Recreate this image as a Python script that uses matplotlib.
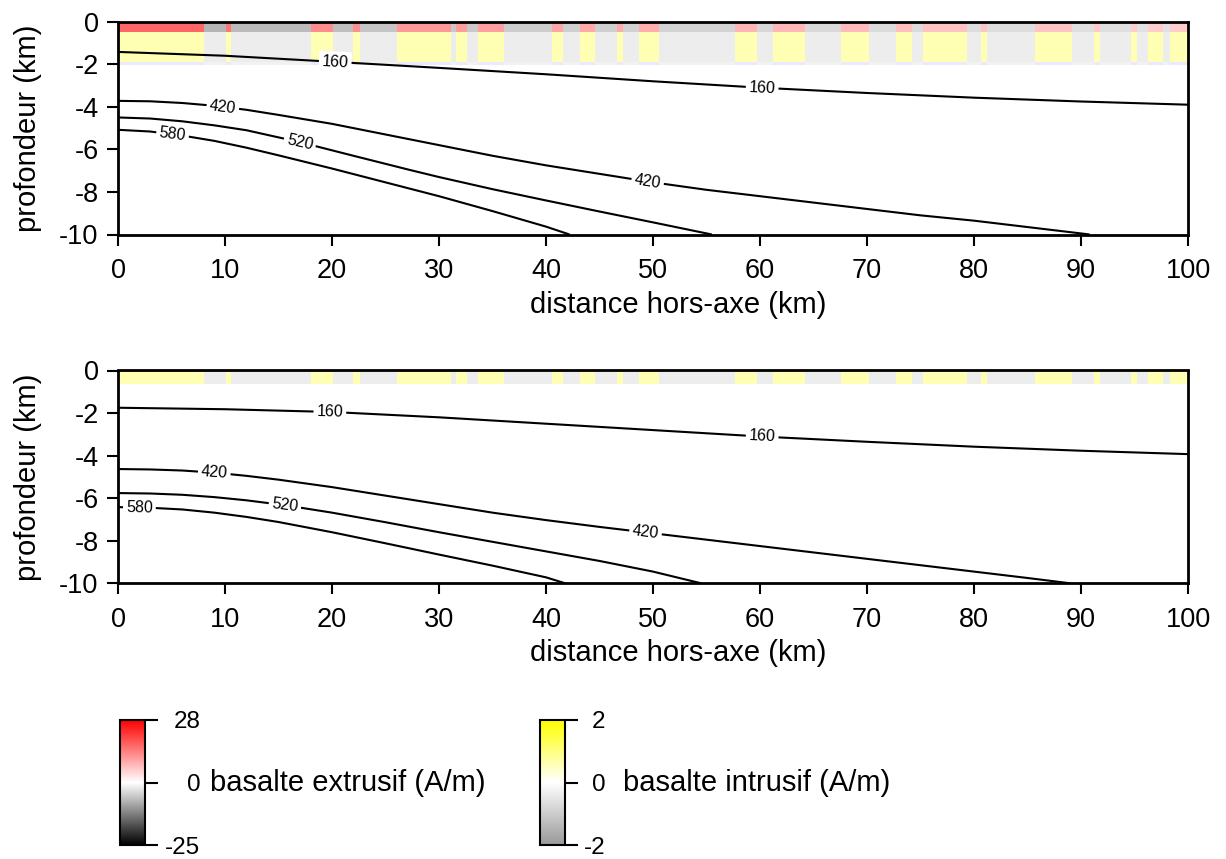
import matplotlib
matplotlib.use('Agg')
import numpy as np
import matplotlib.pyplot as plt
from matplotlib.colors import ListedColormap, TwoSlopeNorm
from matplotlib.cm import ScalarMappable

plt.rcParams['font.family'] = ['Liberation Sans', 'DejaVu Sans']
plt.rcParams['axes.unicode_minus'] = False

# ---------------- data ----------------
# block boundaries of the magnetic stripes (km off-axis)
block_edges = [0, 8.0, 10.1, 10.6, 18.0, 20.1, 22.0, 22.6, 26.1, 31.1, 31.6, 32.6,
               33.6, 36.1, 40.6, 41.6, 43.2, 44.6, 46.6, 47.2, 48.7, 50.6, 57.7,
               59.7, 61.2, 64.2, 67.6, 70.2, 72.7, 74.2, 75.2, 79.3, 80.7, 81.2,
               85.7, 89.2, 91.2, 91.8, 94.7, 95.2, 96.3, 97.7, 98.3, 100]
# extrusive basalt magnetisation (A/m), one value per block
extrusive_mag = [16.8, -7.4, 15.0, -6.7, 12.6, -6.3, 12.3, -5.8, 11.2, -5.4, 10.9,
                 -5.3, 10.6, -5.0, 9.9, -4.8, 9.6, -4.7, 9.4, -4.6, 9.1, -4.3,
                 8.3, -4.0, 8.0, -3.8, 7.5, -3.7, 7.2, -3.6, 6.7, -3.5, 6.5,
                 -3.4, 6.4, -3.3, 6.1, -3.2, 5.9, -3.1, 5.8, -3.0, 5.7]
# intrusive basalt magnetisation (A/m)
intrusive_mag = [0.6, -0.35] * 21 + [0.6]
# deeper layer (weak)
deep_mag = [0.09, -0.13] * 21 + [0.09]

# layer depths (km) for each panel
layers_top = {'ext': (0.0, -0.5), 'int': (-0.5, -1.9), 'deep': (-1.9, -2.05)}
layers_bot = {'ext': (0.0, -0.05), 'int': (-0.05, -0.65)}

# isotherms (distance km, depth km)
iso_top = {
    '160': ([0, 10, 20, 30, 40, 50, 60, 70, 80, 90, 100],
            [-1.42, -1.6, -1.88, -2.17, -2.47, -2.8, -3.1, -3.35, -3.57, -3.75, -3.9]),
    '420': ([0, 3, 6, 9, 12, 15, 20, 25, 30, 35, 40, 45, 50, 55, 60, 65, 70, 75, 80, 85, 90, 90.8],
            [-3.72, -3.74, -3.82, -3.95, -4.14, -4.38, -4.8, -5.3, -5.8, -6.3, -6.75, -7.15,
             -7.55, -7.9, -8.2, -8.5, -8.8, -9.1, -9.35, -9.65, -9.95, -10.0]),
    '520': ([0, 3, 6, 9, 12, 17, 22, 27.3, 30, 35, 40, 45, 50, 55.5],
            [-4.5, -4.55, -4.68, -4.87, -5.1, -5.66, -6.3, -6.97, -7.3, -7.87, -8.4, -8.92,
             -9.43, -10.0]),
    '580': ([0, 3, 6, 9, 12, 15, 20, 25, 30, 35, 40, 42.2],
            [-5.08, -5.16, -5.35, -5.6, -5.92, -6.28, -6.9, -7.55, -8.2, -8.9, -9.63, -10.0]),
}
iso_bot = {
    '160': ([0, 10, 20, 30, 40, 50, 60, 70, 80, 90, 100],
            [-1.75, -1.82, -1.95, -2.2, -2.5, -2.8, -3.1, -3.35, -3.58, -3.77, -3.93]),
    '420': ([0, 3, 6, 9, 12, 15, 20, 25, 30, 35, 40, 45, 50, 55, 60, 65, 70, 75, 80, 85, 89],
            [-4.63, -4.65, -4.7, -4.8, -4.95, -5.13, -5.48, -5.88, -6.28, -6.68, -7.03, -7.35,
             -7.65, -7.95, -8.25, -8.55, -8.85, -9.15, -9.45, -9.75, -10.0]),
    '520': ([0, 3, 6, 9, 12, 15.6, 20, 25, 30, 35, 40, 45, 50, 54.5],
            [-5.76, -5.78, -5.84, -5.95, -6.1, -6.33, -6.68, -7.13, -7.6, -8.05, -8.5, -8.95,
             -9.45, -10.0]),
    '580': ([0, 3, 6, 9, 12, 15, 20, 25, 30, 35, 40, 41.8],
            [-6.42, -6.45, -6.53, -6.68, -6.88, -7.12, -7.6, -8.12, -8.65, -9.17, -9.72, -10.0]),
}
# label positions (distance km) along each isotherm
lab_top = {'160': [20.3, 60.2], '420': [9.8, 49.5], '520': [17.0], '580': [5.1]}
lab_bot = {'160': [19.8, 60.2], '420': [9.0, 49.3], '520': [15.6], '580': [2.0]}

xticks = list(range(0, 101, 10))
yticks = [0, -2, -4, -6, -8, -10]

# ---------------- colormaps ----------------
def ramp(c0, c1, n=128):
    c0 = np.array(c0, float); c1 = np.array(c1, float)
    t = np.linspace(0, 1, n)[:, None]
    return c0 + (c1 - c0) * t

ext_cmap = ListedColormap(np.vstack([ramp((0, 0, 0), (1, 1, 1)), ramp((1, 1, 1), (1, 0, 0))]))
int_cmap = ListedColormap(np.vstack([ramp((0.6, 0.6, 0.6), (1, 1, 1)), ramp((1, 1, 1), (1, 1, 0))]))
deep_cmap = ListedColormap(np.vstack([ramp((0.6, 0.6, 0.6), (1, 1, 1)), ramp((1, 1, 1), (0, 0, 1))]))
ext_norm = TwoSlopeNorm(vmin=-25, vcenter=0, vmax=28)
int_norm = TwoSlopeNorm(vmin=-2, vcenter=0, vmax=2)
deep_norm = TwoSlopeNorm(vmin=-1, vcenter=0, vmax=1)

W, H = 1226, 859
fig = plt.figure(figsize=(W / 100, H / 100), dpi=100)

def px_axes(x0, y0, x1, y1):
    return fig.add_axes([x0 / W, 1 - y1 / H, (x1 - x0) / W, (y1 - y0) / H])

ax1 = px_axes(118, 21.7, 1188, 234.5)
ax2 = px_axes(118, 370.5, 1188, 583.3)

def draw_panel(ax, layers, iso, labs, xlab_y):
    edges = np.array(block_edges)
    specs = [('ext', extrusive_mag, ext_cmap, ext_norm),
             ('int', intrusive_mag, int_cmap, int_norm),
             ('deep', deep_mag, deep_cmap, deep_norm)]
    for key, vals, cmap, norm in specs:
        if key not in layers:
            continue
        top, bot = layers[key]
        ax.pcolormesh(edges, [bot, top], np.array(vals)[None, :], cmap=cmap, norm=norm,
                      shading='flat', edgecolors='none', antialiased=False, zorder=1)
    for name, (xs, ys) in iso.items():
        ax.plot(xs, ys, color='black', lw=1.5, zorder=3, solid_capstyle='butt',
                solid_joinstyle='round')
        for lx in labs[name]:
            ly = np.interp(lx, xs, ys)
            i = np.searchsorted(xs, lx)
            i = min(max(i, 1), len(xs) - 1)
            ang = np.degrees(np.arctan2(ys[i] - ys[i - 1], xs[i] - xs[i - 1]))
            ax.text(lx, ly, name, fontsize=11.5, ha='center', va='center', rotation=ang,
                    transform_rotates_text=True, rotation_mode='anchor', zorder=4,
                    bbox=dict(facecolor='white', edgecolor='none', pad=2.2))
    ax.set_xlim(0, 100)
    ax.set_ylim(-10, 0)
    ax.set_xticks(xticks)
    ax.set_yticks(yticks)
    ax.set_xticklabels([str(v) for v in xticks])
    ax.set_yticklabels([str(v) for v in yticks])
    ax.tick_params(direction='out', length=8, width=1.5, labelsize=19.5)
    ax.tick_params(axis='x', pad=9)
    ax.tick_params(axis='y', pad=6)
    for s in ax.spines.values():
        s.set_linewidth(2)
        s.set_zorder(5)
    ax.set_xlabel('distance hors-axe (km)', fontsize=21)
    ax.set_ylabel('profondeur (km)', fontsize=21)
    ax.xaxis.set_label_coords((678 - 118) / 1070, xlab_y)
    ax.xaxis.label.set_va('center')
    ax.yaxis.set_label_coords(-0.071, 0.5)

draw_panel(ax1, layers_top, iso_top, lab_top, -(305 - 234.5) / 212.8)
draw_panel(ax2, layers_bot, iso_bot, lab_bot, -(653 - 583.3) / 212.8)

# ---------------- colour bars ----------------
def cbar(x0, cmap, norm, ticks, label, lab_x, pad_px):
    cax = px_axes(x0, 720, x0 + 25, 845)
    cb = fig.colorbar(ScalarMappable(norm=norm, cmap=cmap), cax=cax, ticks=ticks)
    cb.outline.set_linewidth(1.5)
    cax.tick_params(length=9, width=1.5, labelsize=17.5, pad=pad_px * 0.72)
    cax.set_yticklabels([str(t) for t in ticks])
    for t in cax.get_yticklabels():
        t.set_horizontalalignment('right')
    fig.text(lab_x / W, 1 - 783 / H, label, fontsize=21, va='center', ha='left')

cbar(120, ext_cmap, ext_norm, [-25, 0, 28], 'basalte extrusif (A/m)', 210, 43)
cbar(540, int_cmap, int_norm, [-2, 0, 2], 'basalte intrusif (A/m)', 623, 28)

fig.savefig('out.png', dpi=100)
